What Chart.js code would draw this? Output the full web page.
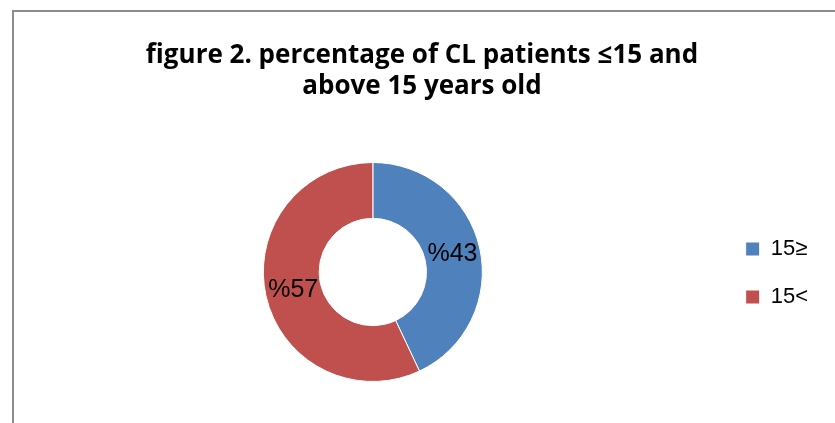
<!DOCTYPE html>
<html>
<head>
<meta charset="utf-8">
<script src="https://cdn.jsdelivr.net/npm/chart.js@4.4.1/dist/chart.umd.min.js"></script>
<style>
  html, body { margin: 0; padding: 0; background: #fff; overflow: hidden; }
  #frame {
    position: absolute; left: 12px; top: 10px; width: 900px; height: 500px;
    border-left: 2px solid #8c8c8c; border-top: 2px solid #8c8c8c;
  }
  #wrap { position: absolute; left: 0; top: 0; width: 835px; height: 423px; }
</style>
</head>
<body>
<div id="frame"></div>
<div id="wrap"><canvas id="chart" width="835" height="423"></canvas></div>
<script>
const titleLines = ["figure 2. percentage of CL patients ≤15 and", "above 15 years old"];
const categories = ["15≥", "15<"];
const percentValues = [43, 57];
const valueLabels = ["%43", "%57"];
const sliceColors = ["#4F81BD", "#C0504D"];

// draws the percent text in the middle of each ring segment
const sliceLabels = {
    id: "sliceLabels",
    afterDatasetsDraw(chart) {
        const ctx = chart.ctx;
        const meta = chart.getDatasetMeta(0);
        ctx.save();
        ctx.font = "25px 'Liberation Sans', Arial, sans-serif";
        ctx.fillStyle = "#000";
        ctx.textAlign = "center";
        ctx.textBaseline = "middle";
        meta.data.forEach((arc, i) => {
            const pos = arc.tooltipPosition();
            ctx.fillText(valueLabels[i], pos.x, pos.y);
        });
        ctx.restore();
    },
};

new Chart(document.getElementById("chart"), {
    type: "doughnut",
    data: {
        labels: categories,
        datasets: [
            {
                data: percentValues,
                backgroundColor: sliceColors,
                borderColor: "#ffffff",
                borderWidth: 1,
            },
        ],
    },
    options: {
        responsive: false,
        animation: false,
        cutout: "49%",
        layout: { padding: { left: 26, right: 17, top: 0, bottom: 41 } },
        plugins: {
            title: {
                display: true,
                text: titleLines,
                color: "#000",
                font: { family: "'Open Sans', sans-serif", size: 26, weight: "bold", lineHeight: 31 / 26 },
                padding: { top: 40, bottom: 60 },
            },
            legend: {
                position: "right",
                // empty legend title only pushes the items down to mid-height
                title: {
                    display: true,
                    text: " ",
                    font: { size: 10, lineHeight: 1.2 },
                    padding: { top: 152, bottom: 0 },
                },
                labels: {
                    boxWidth: 14,
                    boxHeight: 14,
                    padding: 26,
                    color: "#000",
                    font: { family: "'Liberation Sans', Arial, sans-serif", size: 22 },
                },
            },
            tooltip: { enabled: false },
        },
    },
    plugins: [sliceLabels],
});
</script>
</body>
</html>
